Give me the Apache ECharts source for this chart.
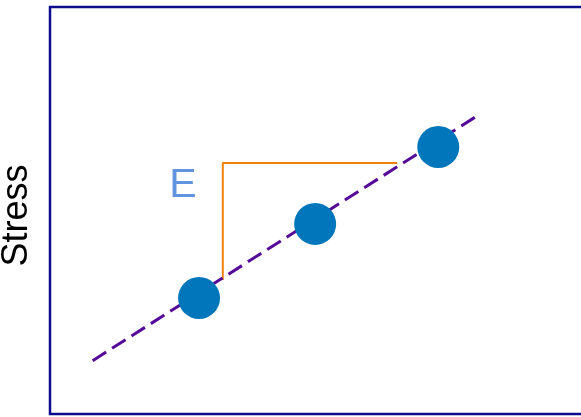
<!DOCTYPE html>
<html>
<head>
<meta charset="utf-8">
<script src="https://cdn.jsdelivr.net/npm/echarts@6/dist/echarts.min.js"></script>
<style>
  html, body { margin: 0; padding: 0; background: #fff; }
  #chart { width: 581px; height: 417px; }
</style>
</head>
<body>
<div id="chart"></div>
<script>
// measured points (arbitrary units, 0..100)
const points = [[27.6, 28.5], [49.1, 46.7], [71.9, 65.6]]
const fitLine = [[7.9, 13.1], [78.8, 73.0]]
const slopeGuide = [[32.0, 32.9], [32.0, 61.7], [64.3, 61.7]]
const slopeLabel = [[24.6, 56.0]]
const slopeText = "E"
const yTitle = "Stress"

const chart = echarts.init(document.getElementById("chart"), null, { renderer: "canvas" })

chart.setOption({
  animation: false,
  grid: {
    left: 50, top: 7, width: 540, height: 407,
    containLabel: false,
    outerBoundsMode: "none",
    show: true,
    borderColor: "#0c0c8c",
    borderWidth: 2.5,
    backgroundColor: "transparent"
  },
  xAxis: {
    type: "value", min: 0, max: 100,
    axisLine: { show: false }, axisTick: { show: false },
    axisLabel: { show: false }, splitLine: { show: false }
  },
  yAxis: {
    type: "value", min: 0, max: 100,
    name: yTitle,
    nameLocation: "middle",
    nameRotate: 90,
    nameGap: 15,
    nameTextStyle: {
      color: "#000", fontSize: 36, fontFamily: "Liberation Sans, Arial, sans-serif",
      padding: [0, 10, 0, 0]
    },
    axisLine: { show: false }, axisTick: { show: false },
    axisLabel: { show: false }, splitLine: { show: false }
  },
  series: [
    {
      type: "line",
      data: slopeGuide,
      symbol: "none",
      lineStyle: { color: "#f0820a", width: 2 },
      z: 1
    },
    {
      type: "line",
      data: fitLine,
      symbol: "none",
      lineStyle: { color: "#550a99", width: 3, type: [16, 7] },
      z: 2
    },
    {
      type: "scatter",
      data: points,
      symbolSize: 42,
      itemStyle: { color: "#0176bb", opacity: 1 },
      z: 3
    },
    {
      type: "scatter",
      data: slopeLabel,
      symbolSize: 0,
      label: {
        show: true,
        position: "inside",
        formatter: slopeText,
        color: "#3a78d8",
        fontSize: 41,
        fontFamily: "Liberation Sans, Arial, sans-serif"
      },
      z: 4
    }
  ]
})
</script>
</body>
</html>
